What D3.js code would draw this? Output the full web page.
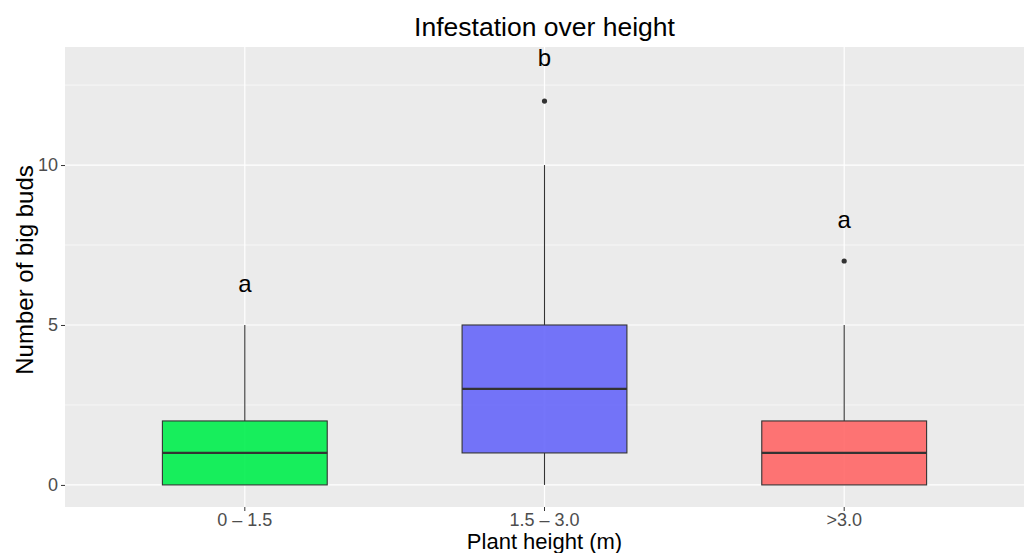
<!DOCTYPE html>
<html>
<head>
<meta charset="utf-8">
<script src="https://cdn.jsdelivr.net/npm/d3@7"></script>
<style>
  body { margin: 0; background: #fff; }
  svg { font-family: "Liberation Sans", Arial, sans-serif; }
</style>
</head>
<body>
<div id="chart"></div>
<script>
// data
var categories = ["0 \u2013 1.5", "1.5 \u2013 3.0", ">3.0"];
var whiskerLow  = [0, 0, 0];
var q1          = [0, 1, 0];
var medians     = [1, 3, 1];
var q3          = [2, 5, 2];
var whiskerHigh = [5, 10, 5];
var outliers    = [[], [12], [7]];
var letters     = ["a", "b", "a"];
var letterY     = [6.3, 13.35, 8.3];
var fills       = ["#00ee4c", "#6666f9", "#ff6666"];
var yTicks      = [0, 5, 10];
var yMinor      = [2.5, 7.5, 12.5];

var W = 1027, H = 553;
var margin = {top: 47, right: 3, bottom: 46, left: 65};

var svg = d3.select("#chart").append("svg")
  .attr("width", W)
  .attr("height", H);

var x = d3.scaleBand()
  .domain(categories)
  .range([margin.left, W - margin.right])
  .paddingInner(0)
  .paddingOuter(0.1);   // 0.6 of a step on each side, as ggplot does

// ggplot-ish expansion: 0.69 below 0 and above 13
var y = d3.scaleLinear()
  .domain([-0.69, 13.69])
  .range([H - margin.bottom, margin.top]);

var step = x.step();
var boxW = step * 0.55;
var cx = d => x(d) + x.bandwidth() / 2;

// panel
svg.append("rect")
  .attr("x", margin.left)
  .attr("y", margin.top)
  .attr("width", W - margin.right - margin.left)
  .attr("height", H - margin.bottom - margin.top)
  .attr("fill", "#ebebeb");

var grid = svg.append("g").attr("stroke", "#fff").attr("fill", "none");
grid.selectAll(".minor")
  .data(yMinor)
  .join("line")
    .attr("class", "minor")
    .attr("x1", margin.left).attr("x2", W - margin.right)
    .attr("y1", d => y(d)).attr("y2", d => y(d))
    .attr("stroke-width", 0.6);
grid.selectAll(".major")
  .data(yTicks)
  .join("line")
    .attr("class", "major")
    .attr("x1", margin.left).attr("x2", W - margin.right)
    .attr("y1", d => y(d)).attr("y2", d => y(d))
    .attr("stroke-width", 1.2);
grid.selectAll(".vmajor")
  .data(categories)
  .join("line")
    .attr("class", "vmajor")
    .attr("x1", d => cx(d)).attr("x2", d => cx(d))
    .attr("y1", margin.top).attr("y2", H - margin.bottom)
    .attr("stroke-width", 1.2);

// boxes
var boxes = svg.append("g").selectAll("g")
  .data(categories)
  .join("g");

boxes.append("line")
  .attr("x1", d => cx(d)).attr("x2", d => cx(d))
  .attr("y1", (d, i) => y(q3[i])).attr("y2", (d, i) => y(whiskerHigh[i]))
  .attr("stroke", "#333").attr("stroke-width", 1.1);
boxes.append("line")
  .attr("x1", d => cx(d)).attr("x2", d => cx(d))
  .attr("y1", (d, i) => y(q1[i])).attr("y2", (d, i) => y(whiskerLow[i]))
  .attr("stroke", "#333").attr("stroke-width", 1.1);

boxes.append("rect")
  .attr("x", d => cx(d) - boxW / 2)
  .attr("width", boxW)
  .attr("y", (d, i) => y(q3[i]))
  .attr("height", (d, i) => y(q1[i]) - y(q3[i]))
  .attr("fill", (d, i) => fills[i])
  .attr("fill-opacity", 0.9)
  .attr("stroke", "#333")
  .attr("stroke-width", 1.1);

boxes.append("line")
  .attr("x1", d => cx(d) - boxW / 2).attr("x2", d => cx(d) + boxW / 2)
  .attr("y1", (d, i) => y(medians[i])).attr("y2", (d, i) => y(medians[i]))
  .attr("stroke", "#333").attr("stroke-width", 2.2);

boxes.selectAll("circle")
  .data((d, i) => outliers[i].map(v => ({cat: d, v: v})))
  .join("circle")
    .attr("cx", d => cx(d.cat))
    .attr("cy", d => y(d.v))
    .attr("r", 2.6)
    .attr("fill", "#333");

// significance letters
svg.append("g").selectAll("text")
  .data(categories)
  .join("text")
    .attr("x", d => cx(d))
    .attr("y", (d, i) => y(letterY[i]))
    .attr("dy", "0.35em")
    .attr("text-anchor", "middle")
    .attr("font-size", 24)
    .attr("fill", "#000")
    .text((d, i) => letters[i]);

// axes
var xAxis = svg.append("g")
  .attr("transform", `translate(0,${H - margin.bottom})`)
  .call(d3.axisBottom(x).tickSize(4).tickPadding(2));
var yAxis = svg.append("g")
  .attr("transform", `translate(${margin.left},0)`)
  .call(d3.axisLeft(y).tickValues(yTicks).tickSize(4).tickPadding(3));

[xAxis, yAxis].forEach(function(g) {
  g.select(".domain").remove();
  g.selectAll(".tick line").attr("stroke", "#333");
  g.selectAll(".tick text")
    .attr("fill", "#4d4d4d")
    .attr("font-size", 18)
    .attr("font-family", "Liberation Sans, Arial, sans-serif");
});

// titles
svg.append("text")
  .attr("x", margin.left + (W - margin.right - margin.left) / 2)
  .attr("y", 36)
  .attr("text-anchor", "middle")
  .attr("font-size", 26.5)
  .text("Infestation over height");

svg.append("text")
  .attr("x", margin.left + (W - margin.right - margin.left) / 2)
  .attr("y", 549)
  .attr("text-anchor", "middle")
  .attr("font-size", 22)
  .text("Plant height (m)");

svg.append("text")
  .attr("transform", "translate(33,270) rotate(-90)")
  .attr("text-anchor", "middle")
  .attr("font-size", 24)
  .text("Number of big buds");
</script>
</body>
</html>
